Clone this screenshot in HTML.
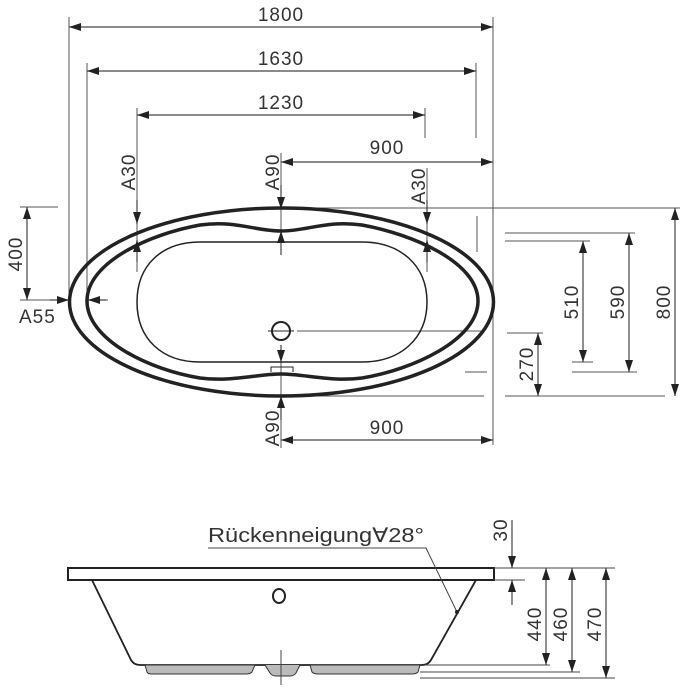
<!DOCTYPE html>
<html><head><meta charset="utf-8"><style>
html,body{margin:0;padding:0;background:#fff}
svg{display:block}
text{font-family:"Liberation Sans",sans-serif;font-size:19px;letter-spacing:1px;fill:#333}
</style></head><body>
<svg width="690" height="690" viewBox="0 0 690 690" xmlns="http://www.w3.org/2000/svg">
<defs>
<marker id="a" viewBox="0 0 12 8" refX="12" refY="4" markerWidth="12" markerHeight="8" markerUnits="userSpaceOnUse" orient="auto-start-reverse"><path d="M0,0L12,4L0,8z" fill="#222"/></marker>
</defs>
<g stroke="#555" stroke-width="1" fill="none">
<line x1="69" y1="17" x2="69" y2="300"/>
<line x1="493" y1="17" x2="493" y2="445"/>
<line x1="87" y1="63" x2="87" y2="300"/>
<line x1="476" y1="63" x2="476" y2="138"/>
<line x1="137" y1="108" x2="137" y2="272"/>
<line x1="425" y1="108" x2="425" y2="138"/>
<line x1="427" y1="168" x2="427" y2="272"/>
<line x1="281" y1="153" x2="281" y2="255"/>
<line x1="281" y1="360" x2="281" y2="448"/>
<line x1="477" y1="216" x2="477" y2="252"/>
<line x1="465" y1="372" x2="487" y2="372"/>
<line x1="297" y1="331" x2="485" y2="331"/>
<line x1="281" y1="208" x2="680" y2="208"/>
<line x1="285" y1="396" x2="484" y2="396"/>
<line x1="505" y1="396" x2="665" y2="396"/>
<line x1="505" y1="233" x2="635" y2="233"/>
<line x1="505" y1="241" x2="590" y2="241"/>
<line x1="572" y1="362" x2="593" y2="362"/>
<line x1="572" y1="372" x2="637" y2="372"/>
<line x1="507" y1="333" x2="543" y2="333"/>
<line x1="20" y1="207" x2="58" y2="207"/>
<line x1="20" y1="300" x2="69" y2="300"/>
<line x1="87" y1="300" x2="108" y2="300"/>
</g>
<g stroke="#444" stroke-width="1.2" fill="none">
<line x1="69" y1="27" x2="493" y2="27" marker-start="url(#a)" marker-end="url(#a)"/>
<line x1="87" y1="71" x2="476" y2="71" marker-start="url(#a)" marker-end="url(#a)"/>
<line x1="137" y1="115" x2="425" y2="115" marker-start="url(#a)" marker-end="url(#a)"/>
<line x1="281" y1="162" x2="493" y2="162" marker-start="url(#a)" marker-end="url(#a)"/>
<line x1="281" y1="440" x2="493" y2="440" marker-start="url(#a)" marker-end="url(#a)"/>
<line x1="137" y1="200" x2="137" y2="224" marker-end="url(#a)"/>
<line x1="137" y1="262" x2="137" y2="240" marker-end="url(#a)"/>
<line x1="281" y1="185" x2="281" y2="209" marker-end="url(#a)"/>
<line x1="281" y1="255" x2="281" y2="231" marker-end="url(#a)"/>
<line x1="281" y1="345" x2="281" y2="362" marker-end="url(#a)"/>
<line x1="281" y1="420" x2="281" y2="396" marker-end="url(#a)"/>
<line x1="427" y1="200" x2="427" y2="224" marker-end="url(#a)"/>
<line x1="427" y1="262" x2="427" y2="240" marker-end="url(#a)"/>
<line x1="27" y1="207" x2="27" y2="300" marker-start="url(#a)" marker-end="url(#a)"/>
<line x1="50" y1="300" x2="69" y2="300" marker-end="url(#a)"/>
<line x1="106" y1="300" x2="88" y2="300" marker-end="url(#a)"/>
<line x1="675" y1="208" x2="675" y2="396" marker-start="url(#a)" marker-end="url(#a)"/>
<line x1="629" y1="233" x2="629" y2="372" marker-start="url(#a)" marker-end="url(#a)"/>
<line x1="583" y1="241" x2="583" y2="362" marker-start="url(#a)" marker-end="url(#a)"/>
<line x1="538" y1="333" x2="538" y2="396" marker-start="url(#a)" marker-end="url(#a)"/>
</g>
<g stroke="#222" fill="none">
<ellipse cx="281.5" cy="302" rx="212" ry="94" stroke-width="3.5"/>
<path d="M87,301 C87,262 150,234 200,225 C235,220 255,231 281,231 C307,231 327,220 362,225 C412,234 478,262 478,301 C478,340 412,370 362,378 C330,382 305,374 281,374 C257,374 232,382 200,378 C150,370 87,340 87,301 Z" stroke-width="3.5"/>
<path d="M200,242 L362,242 C400,242 427,265 427,302 C427,339 400,362 362,362 L200,362 C162,362 137,339 137,302 C137,265 162,242 200,242 Z" stroke-width="1.5"/>
<circle cx="281" cy="331" r="9" stroke-width="2"/>
<line x1="268" y1="331" x2="294" y2="331" stroke-width="1"/>
<path d="M271,372 L271,367 L293,367 L293,372" stroke-width="1"/>
</g>
<text x="281" y="21" text-anchor="middle">1800</text>
<text x="281" y="65" text-anchor="middle">1630</text>
<text x="281" y="109" text-anchor="middle">1230</text>
<text x="387" y="154" text-anchor="middle">900</text>
<text x="387" y="434" text-anchor="middle">900</text>
<text x="19" y="323">A55</text>
<text transform="translate(135,172) rotate(-90)" text-anchor="middle">A30</text>
<text transform="translate(279,172) rotate(-90)" text-anchor="middle">A90</text>
<text transform="translate(425,186) rotate(-90)" text-anchor="middle">A30</text>
<text transform="translate(279,428) rotate(-90)" text-anchor="middle">A90</text>
<text transform="translate(22,254) rotate(-90)" text-anchor="middle">400</text>
<text transform="translate(670,302) rotate(-90)" text-anchor="middle">800</text>
<text transform="translate(624,302) rotate(-90)" text-anchor="middle">590</text>
<text transform="translate(578,302) rotate(-90)" text-anchor="middle">510</text>
<text transform="translate(533,364) rotate(-90)" text-anchor="middle">270</text>
<g stroke="#222" fill="none">
<rect x="68" y="568" width="426" height="12" stroke-width="2"/>
<path d="M92,580 L131,660 Q134,665 140,665 L422,665 Q428,665 431,660 L476,580" stroke-width="1.8"/>
<ellipse cx="279" cy="596" rx="6" ry="7" stroke-width="2"/>
</g>
<path d="M145,665 L255,665 L252,672 Q250,674 246,674 L152,674 Q148,674 147,672 Z" fill="#bbb" stroke="#333" stroke-width="1"/>
<path d="M310,665 L420,665 L418,672 Q416,674 412,674 L318,674 Q314,674 312,672 Z" fill="#bbb" stroke="#333" stroke-width="1"/>
<path d="M265,665 L270,673 Q272,676 276,676 L290,676 Q294,676 296,673 L300,665" fill="#bbb" stroke="#333" stroke-width="1"/>
<line x1="281" y1="650" x2="281" y2="685" stroke="#444" stroke-width="1"/>
<g stroke="#444" stroke-width="1" fill="none">
<path d="M208,548 L426,548 L457,612"/>
<line x1="494" y1="568" x2="615" y2="568"/>
<line x1="494" y1="580" x2="525" y2="580"/>
<line x1="425" y1="665" x2="550" y2="665"/>
<line x1="420" y1="672" x2="580" y2="672"/>
<line x1="420" y1="678" x2="615" y2="678"/>
</g>
<circle cx="457" cy="612" r="2" fill="#222"/>
<g stroke="#444" stroke-width="1.2" fill="none">
<line x1="512" y1="520" x2="512" y2="568" marker-end="url(#a)"/>
<line x1="512" y1="605" x2="512" y2="580" marker-end="url(#a)"/>
<line x1="546" y1="568" x2="546" y2="665" marker-start="url(#a)" marker-end="url(#a)"/>
<line x1="572" y1="568" x2="572" y2="672" marker-start="url(#a)" marker-end="url(#a)"/>
<line x1="606" y1="568" x2="606" y2="678" marker-start="url(#a)" marker-end="url(#a)"/>
</g>
<text x="208" y="542" textLength="216" lengthAdjust="spacingAndGlyphs" style="font-size:20px;letter-spacing:0">Rückenneigung∀28°</text>
<text transform="translate(507,530) rotate(-90)" text-anchor="middle">30</text>
<text transform="translate(541,624) rotate(-90)" text-anchor="middle">440</text>
<text transform="translate(567,624) rotate(-90)" text-anchor="middle">460</text>
<text transform="translate(601,624) rotate(-90)" text-anchor="middle">470</text>
</svg>
</body></html>
